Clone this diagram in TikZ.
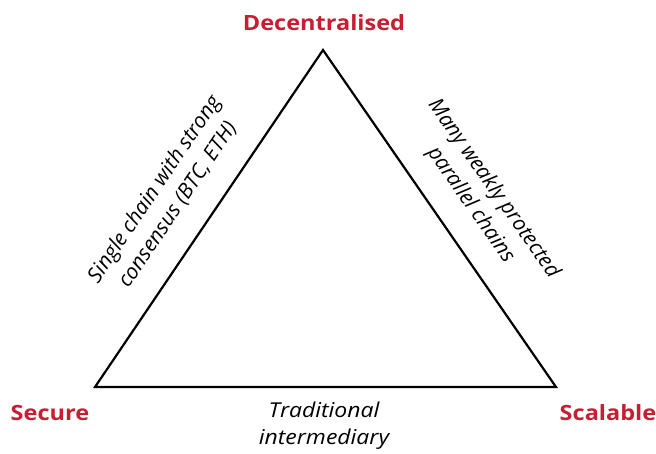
\documentclass[tikz,border=0pt]{standalone}
\usepackage{fontspec}
\setmainfont{Open Sans}
\newfontfamily\widefont[FakeStretch=1.12]{Open Sans}
\definecolor{vred}{RGB}{200,30,50}
\tikzset{
  vertexlabel/.style={text=vred, font=\widefont\fontsize{21}{24}\selectfont\bfseries, inner sep=0pt},
  baselabel/.style={font=\widefont\fontsize{20.5}{27}\selectfont\itshape, align=center, inner sep=0pt},
  sidelabel/.style={font=\fontsize{21}{28}\selectfont\itshape, align=center, inner sep=0pt},
  edge/.style={draw=black, line width=2.2pt, line join=miter}
}
\begin{document}
\begin{tikzpicture}[x=1pt,y=-1pt]
\useasboundingbox (0,0) rectangle (656,453);
\coordinate (top) at (323,50);
\coordinate (bl) at (95,387);
\coordinate (br) at (556,387);
\draw[edge] (top) -- (br) -- (bl) -- cycle;
\node[vertexlabel] (dec) at (324,23) {Decentralised};
\node[vertexlabel] (sec) at (50,413) {Secure};
\node[vertexlabel] (sca) at (608,413) {Scalable};
\node[baselabel] (trad) at (324,426) {Traditional\\intermediary};
\node[sidelabel, rotate=56] (left) at (166,197) {Single chain with strong\\consensus (BTC, ETH)};
\node[sidelabel, rotate=-55] (right) at (482,197) {Many weakly protected\\parallel chains};
\end{tikzpicture}
\end{document}
